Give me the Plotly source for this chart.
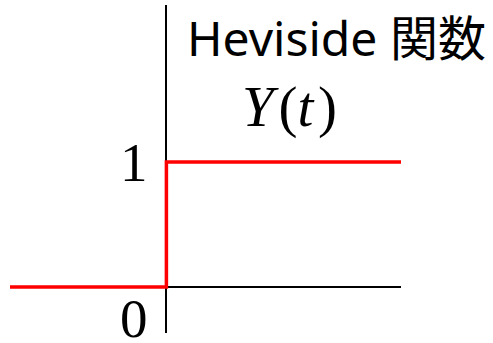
import plotly.graph_objects as go

# Heaviside step Y(t): 0 for t < 0, 1 for t >= 0
t_values = [-2, 0, 0, 3]
y_values = [0, 0, 1, 1]

tick_labels = ["1", "0"]
tick_label_y = [1, -0.25]
tick_label_x = -0.42

title_text = "Heviside 関数"
func_label = "<i>Y</i>\u200a(<i>t\u200a</i>)"

fig = go.Figure()

fig.add_trace(go.Scatter(
    x=t_values, y=y_values, mode="lines",
    line=dict(color="#ff0000", width=3.5, shape="linear"),
    hoverinfo="skip", showlegend=False,
))

for lbl, yy in zip(tick_labels, tick_label_y):
    fig.add_annotation(
        x=tick_label_x, y=yy, xref="x", yref="y", text=lbl, showarrow=False,
        font=dict(family="Liberation Serif", size=55, color="black"),
        xanchor="center", yanchor="middle",
    )

fig.add_annotation(
    x=0.836, y=0.902, xref="paper", yref="paper", text=title_text,
    showarrow=False, xanchor="center", yanchor="middle",
    font=dict(family="Noto Sans, Noto Sans CJK JP", size=48, color="black"),
)

fig.add_annotation(
    x=0.716, y=0.69, xref="paper", yref="paper", text=func_label,
    showarrow=False, xanchor="center", yanchor="middle",
    font=dict(family="Liberation Serif", size=57, color="black"),
)

fig.update_xaxes(
    range=[-2, 3], showgrid=False, showticklabels=False, ticks="",
    zeroline=True, zerolinecolor="black", zerolinewidth=1.5, showline=False,
)
fig.update_yaxes(
    range=[-0.368, 2.256], showgrid=False, showticklabels=False, ticks="",
    zeroline=True, zerolinecolor="black", zerolinewidth=1.5, showline=False,
)

fig.update_layout(
    width=493, height=343,
    margin=dict(l=10, r=92, t=5, b=10),
    paper_bgcolor="white", plot_bgcolor="white",
)

fig.write_html("out.html")
